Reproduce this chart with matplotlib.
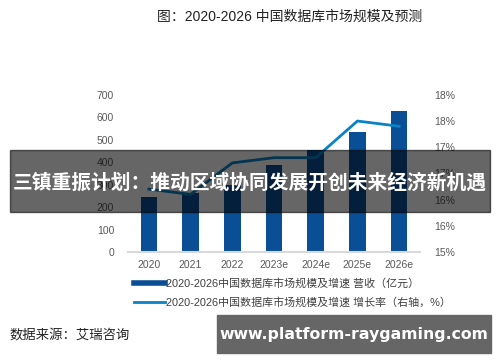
import matplotlib
matplotlib.use("Agg")
import matplotlib.pyplot as plt
from matplotlib.lines import Line2D
from matplotlib.patches import Rectangle

plt.rcParams['font.family'] = ['Liberation Sans', 'Noto Sans CJK SC', 'DejaVu Sans']

# data
years = ['2020', '2021', '2022', '2023e', '2024e', '2025e', '2026e']
revenue = [247, 263, 300, 388, 455, 536, 630]          # 亿元
growth = [16.2, 16.1, 16.7, 16.8, 16.8, 17.5, 17.4]    # %
left_ticks = [0, 100, 200, 300, 400, 500, 600, 700]
right_ticks = [15, 15.5, 16, 16.5, 17, 17.5, 18]
right_labels = ['15%', '16%', '16%', '17%', '17%', '18%', '18%']

title = '图：2020-2026 中国数据库市场规模及预测'
bar_label = '2020-2026中国数据库市场规模及增速 营收（亿元）'
line_label = '2020-2026中国数据库市场规模及增速 增长率（右轴，%）'
source = '数据来源：艾瑞咨询'
banner = '三镇重振计划：推动区域协同发展开创未来经济新机遇'
watermark = 'www.platform-raygaming.com'

bar_color = '#0a4f96'
line_color = '#0a82c6'
tick_color = '#595959'

fig = plt.figure(figsize=(5, 3.62), dpi=100)
ax = fig.add_axes([0.256, 0.304, 0.584, 0.434])
x = list(range(len(years)))
ax.bar(x, revenue, width=0.4, color=bar_color, zorder=2)
ax.set_xlim(-0.5, 6.5)
ax.set_ylim(0, 700)
ax.set_yticks(left_ticks)
ax.set_xticks(x)
ax.set_xticklabels(years)
for s in ['top', 'left', 'right']:
    ax.spines[s].set_visible(False)
ax.spines['bottom'].set_color('#d9d9d9')
ax.spines['bottom'].set_linewidth(1.5)
ax.tick_params(axis='both', length=0, labelsize=7.5, colors=tick_color)
ax.tick_params(axis='y', pad=10)
ax.tick_params(axis='x', pad=6)

ax2 = ax.twinx()
ax2.plot(x, growth, color=line_color, lw=2, zorder=3)
ax2.set_ylim(15, 18)
ax2.set_yticks(right_ticks)
ax2.set_yticklabels(right_labels)
for s in ['top', 'left', 'right', 'bottom']:
    ax2.spines[s].set_visible(False)
ax2.tick_params(axis='y', length=0, labelsize=7.5, colors=tick_color, pad=10)

fig.text(0.58, 0.953, title, ha='center', va='center', fontsize=10, color='#222222')

handles = [Line2D([], [], color=bar_color, lw=4), Line2D([], [], color=line_color, lw=2)]
fig.legend(handles, [bar_label, line_label], loc='upper left', bbox_to_anchor=(0.268, 0.232),
           frameon=False, fontsize=7.9, handlelength=2.8, handletextpad=0.1, labelspacing=0.75,
           labelcolor='#404040', borderaxespad=0, borderpad=0)

fig.text(0.02, 0.075, source, ha='left', va='center', fontsize=9.6, color='#222222')

# overlay banner and watermark
fig.patches.append(Rectangle((0.02, 0.414), 0.96, 0.171, transform=fig.transFigure,
                             color='black', alpha=0.6, zorder=10))
fig.text(0.5, 0.495, banner, ha='center', va='center', fontsize=14.2, color='white',
         fontweight='bold', family=['Noto Sans CJK SC', 'DejaVu Sans'], zorder=11)
fig.patches.append(Rectangle((0.434, 0.025), 0.548, 0.105, transform=fig.transFigure,
                             color='#666666', zorder=10))
fig.text(0.708, 0.077, watermark, ha='center', va='center', fontsize=11.3, color='white',
         fontweight='bold', family=['DejaVu Sans'], zorder=11)

fig.savefig('out.png', dpi=100)
